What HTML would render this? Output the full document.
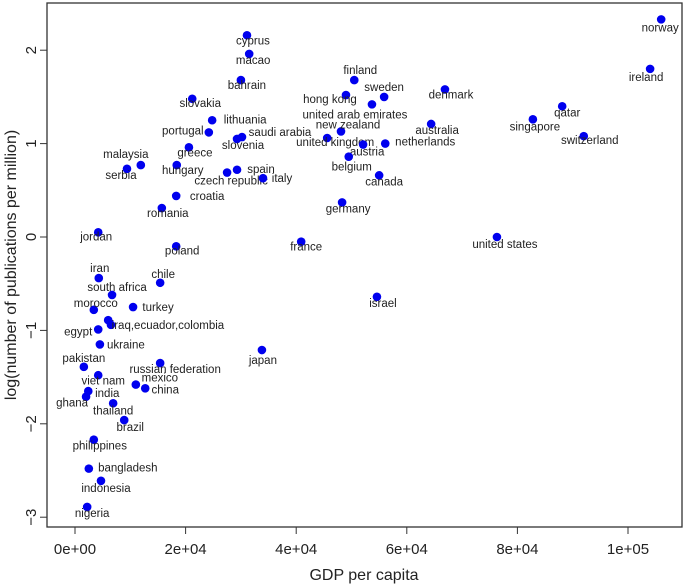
<!DOCTYPE html>
<html><head><meta charset="utf-8"><style>
body{margin:0;background:#fff}
svg{display:block;font-family:"Liberation Sans",sans-serif}
</style></head><body>
<svg id="chart" width="685" height="585">
<rect x="47" y="3" width="635" height="524" fill="none" stroke="#333" stroke-width="1.3"/>
<g id="axes"></g><g id="marks"></g>
<text x="364" y="580" text-anchor="middle" font-size="16" fill="#222">GDP per capita</text>
<text transform="translate(16,265) rotate(-90)" text-anchor="middle" font-size="16" fill="#222">log(number of publications per million)</text>
</svg>
<script>
const countries=["norway","ireland","qatar","singapore","switzerland","denmark","australia","united states","israel","finland","hong kong","sweden","united arab emirates","new zealand","united kingdom","austria","netherlands","belgium","canada","germany","france","cyprus","macao","bahrain","slovakia","lithuania","portugal","saudi arabia","slovenia","greece","malaysia","serbia","hungary","spain","czech republic","italy","croatia","romania","jordan","poland","iran","chile","south africa","morocco","turkey","iraq,ecuador,colombia","","egypt","ukraine","pakistan","russian federation","japan","viet nam","mexico","china","india","ghana","thailand","brazil","philippines","bangladesh","indonesia","nigeria"];
const gdpK=[106.0,104.0,88.1,82.8,92.0,66.9,64.4,76.3,54.6,50.5,49.0,55.9,53.7,48.1,45.6,52.1,56.1,49.5,55.0,48.3,40.9,31.1,31.5,30.0,21.2,24.8,24.2,30.2,29.3,20.6,11.9,9.4,18.4,29.3,27.5,34.0,18.3,15.7,4.2,18.3,4.3,15.4,6.7,3.4,10.5,6.5,6.0,4.2,4.5,1.6,15.4,33.8,4.2,11.0,12.7,2.4,2.0,6.9,8.9,3.4,2.5,4.7,2.2];
const logPub=[2.33,1.80,1.40,1.26,1.08,1.58,1.21,0,-0.64,1.68,1.52,1.50,1.42,1.13,1.06,0.99,1.00,0.86,0.66,0.37,-0.05,2.16,1.96,1.68,1.48,1.25,1.12,1.07,1.05,0.96,0.77,0.73,0.77,0.72,0.69,0.63,0.44,0.31,0.05,-0.10,-0.44,-0.49,-0.62,-0.78,-0.75,-0.94,-0.89,-0.99,-1.15,-1.39,-1.35,-1.21,-1.48,-1.58,-1.62,-1.65,-1.71,-1.78,-1.96,-2.17,-2.48,-2.61,-2.89];
const labDx=[-1,-4,5,2,6,6,6,8,6,6,-16,0,-17,7,8,4,40,3,5,6,5,6,4,6,8,33,-26,38,6,6,-15,-6,6,24,4,19,31,6,-2,6,1,3,5,2,25,57,0,-20,26,0,15,1,5,24,20,19,-14,0,6,6,39,5,5];
const labDy=[9,9,7,8,5,6,7,8,7,-9,5,-9,11,-6,5,8,-1,11,7,7,6,6,7,6,5,0,-1,-4,7,6,-10,7,6,0,9,1,1,6,5,5,-9,-8,-7,-6,1,1,0,3,1,-8,7,11,6,-6,2,3,7,8,8,7,0,8,7];
const X0=75,XS=5.53,Y0=237,YS=93.4;
const xs=v=>X0+v*XS, ys=v=>Y0-v*YS;
const NS="http://www.w3.org/2000/svg";
const axes=document.getElementById('axes'),marks=document.getElementById('marks');
const xTicks=[0,20,40,60,80,100],xTickLabels=["0e+00","2e+04","4e+04","6e+04","8e+04","1e+05"];
const yTicks=[-3,-2,-1,0,1,2],yTickLabels=["\u22123","\u22122","\u22121","0","1","2"];
function mk(t,a,p){const e=document.createElementNS(NS,t);for(const k in a)e.setAttribute(k,a[k]);p.appendChild(e);return e;}
xTicks.forEach((v,i)=>{
 const l=mk('line',{x1:xs(v),x2:xs(v),y1:527,y2:534,stroke:'#333'},axes);
 
 
 const t=mk('text',{x:xs(v),y:554,'text-anchor':'middle','font-size':15,fill:'#222'},axes);t.textContent=xTickLabels[i];
 
 
});
yTicks.forEach((v,i)=>{
 const l=mk('line',{x1:40,x2:47,y1:ys(v),y2:ys(v),stroke:'#333'},axes);
 
 
 const t=mk('text',{transform:`translate(36,${ys(v)}) rotate(-90)`,'text-anchor':'middle','font-size':15,fill:'#222'},axes);t.textContent=yTickLabels[i];
 
 
});
countries.forEach((c,i)=>{
 const cx=xs(gdpK[i]),cy=ys(logPub[i]);
 const p=mk('circle',{cx:cx,cy:cy,r:4.3,fill:'#0000ee'},marks);
 
 
 if(c){
  const t=mk('text',{x:cx+labDx[i],y:cy+labDy[i],'text-anchor':'middle','dominant-baseline':'middle','font-size':11.5,fill:'#222'},marks);t.textContent=c;
  
  
 }
});
</script>
</body></html>
